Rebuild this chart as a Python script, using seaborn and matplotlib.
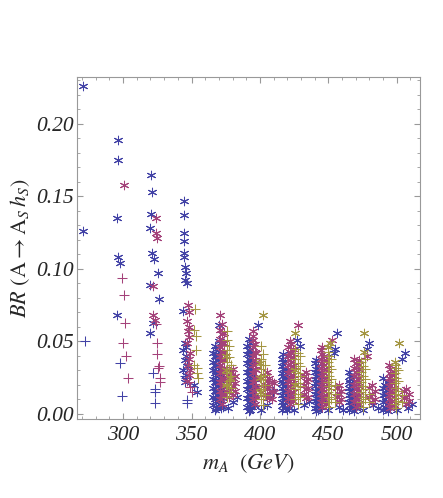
import numpy as np
import pandas as pd
import matplotlib
matplotlib.use("Agg")
import matplotlib.pyplot as plt
import seaborn as sns

# ---------------- data ----------------
# sparse points: (x, y)
blue_star_x = [271, 270.5, 296.4, 296.4, 295.6, 296, 298, 295.6,
               320.4, 321, 320.5, 320, 321, 322.6, 325.5, 320, 326, 322, 320,
               344.5, 344.5, 344.5, 344.5, 344.5, 344.5, 345, 346, 345, 347,
               344, 345, 346, 344, 346, 345, 347, 344, 346, 345, 354, 352]
blue_star_y = [0.226, 0.126, 0.189, 0.175, 0.135, 0.108, 0.104, 0.068,
               0.165, 0.153, 0.138, 0.128, 0.111, 0.107, 0.097, 0.089, 0.079, 0.063, 0.056,
               0.147, 0.137, 0.125, 0.119, 0.111, 0.108, 0.101, 0.097, 0.092, 0.090,
               0.071, 0.0486, 0.046, 0.044, 0.040, 0.037, 0.033, 0.030, 0.027, 0.022, 0.015, 0.020]
mag_star_x = [300.5, 324, 324, 325, 322, 322, 323,
              347.5, 348, 347, 348.5, 347.5, 348, 347, 349, 348, 347.5, 349, 348, 347]
mag_star_y = [0.158, 0.135, 0.125, 0.121, 0.088, 0.068, 0.065,
              0.075, 0.070, 0.064, 0.060, 0.0575, 0.053, 0.049, 0.042, 0.038, 0.034, 0.030, 0.027, 0.023]
blue_plus_x = [272, 298, 299, 322, 323.5, 323.5, 323.5, 346, 347, 347, 345]
blue_plus_y = [0.050, 0.035, 0.0125, 0.028, 0.017, 0.015, 0.0075, 0.0245, 0.0075, 0.0095, 0.026]
mag_plus_x = [299, 300.7, 301.5, 300, 302, 303.6,
              324, 325, 324.5, 325.5, 326, 327, 327, 349, 350, 348]
mag_plus_y = [0.094, 0.082, 0.063, 0.049, 0.040, 0.025,
              0.062, 0.049, 0.041, 0.032, 0.033, 0.022, 0.025, 0.0185, 0.015, 0.022]
olive_plus_x = [352.5, 352, 353, 353, 354, 352, 355, 354]
olive_plus_y = [0.0725, 0.058, 0.054, 0.044, 0.032, 0.034, 0.0245, 0.028]

# dense clusters at m_A ~ 375 ... 500 : columns (x, [y values])
blue_star_cols = [
    (366, [0.006, 0.012, 0.018, 0.024, 0.030, 0.036, 0.042]),
    (367, [0.003, 0.010, 0.016, 0.022, 0.028, 0.034, 0.040, 0.047]),
    (368, [0.004, 0.009, 0.015, 0.021, 0.027, 0.033, 0.039, 0.045]),
    (370, [0.007, 0.013, 0.019, 0.025, 0.031, 0.037, 0.043, 0.050, 0.061]),
    (371.5, [0.004, 0.009, 0.015, 0.021, 0.027]),
    (373, [0.005, 0.011, 0.017]), (377, [0.004]), (380, [0.008]), (383, [0.012]),
    (390.5, [0.005, 0.011, 0.017, 0.023, 0.029, 0.035, 0.041, 0.047]),
    (391.7, [0.002, 0.008, 0.014, 0.020, 0.026, 0.032, 0.038, 0.044, 0.052]),
    (393, [0.003, 0.008, 0.014, 0.020, 0.026, 0.032, 0.038, 0.044, 0.049]),
    (394.2, [0.005, 0.011, 0.017, 0.023, 0.029, 0.035, 0.041]),
    (395.5, [0.006, 0.012, 0.018, 0.024]), (398.5, [0.061]), (401, [0.003]),
    (405, [0.006]), (407, [0.011]), (409.5, [0.016]),
    (416, [0.003, 0.008, 0.013, 0.018, 0.023, 0.028, 0.033, 0.038]),
    (417.2, [0.006, 0.011, 0.016, 0.021, 0.026, 0.031, 0.036, 0.041]),
    (418.5, [0.005, 0.010, 0.015, 0.020, 0.025, 0.030, 0.035]),
    (419.8, [0.003, 0.008, 0.013, 0.018, 0.023, 0.028]),
    (421, [0.004, 0.009, 0.014]), (427, [0.051]), (429, [0.047]),
    (425, [0.003]), (432, [0.006]), (436, [0.009]),
    (440, [0.004, 0.009, 0.014, 0.019, 0.024, 0.029, 0.035]),
    (441.2, [0.002, 0.006, 0.011, 0.016, 0.021, 0.026, 0.031, 0.037]),
    (442.5, [0.003, 0.008, 0.013, 0.018, 0.023, 0.028, 0.033]),
    (443.8, [0.005, 0.011, 0.016, 0.021, 0.026]),
    (445, [0.005, 0.010]), (456, [0.0555]), (454, [0.042]), (455, [0.045]),
    (450, [0.003]), (458, [0.005]), (461, [0.003]),
    (465, [0.003, 0.008, 0.013, 0.018, 0.023, 0.029]),
    (466.2, [0.006, 0.011, 0.016, 0.021, 0.026]),
    (467.5, [0.004, 0.009, 0.014, 0.019, 0.024]),
    (468.7, [0.002, 0.007, 0.012, 0.017]), (470, [0.004]),
    (480, [0.0486]), (478, [0.045]), (475, [0.003]), (483, [0.006]), (486, [0.004]),
    (490, [0.003, 0.008, 0.013, 0.018, 0.0245]),
    (491.2, [0.005, 0.010, 0.015, 0.020]),
    (492.5, [0.004, 0.009, 0.014, 0.019]),
    (493.7, [0.002, 0.007, 0.012, 0.017, 0.022]), (506, [0.042]), (504, [0.038]),
    (500, [0.003]), (508, [0.004]), (511, [0.007]),
]
mag_star_cols = [
    (371, [0.010, 0.016, 0.022, 0.028, 0.034, 0.040, 0.046, 0.052, 0.058, 0.0685]),
    (372.2, [0.007, 0.013, 0.019, 0.025, 0.031, 0.037, 0.043, 0.049, 0.055, 0.062]),
    (373.5, [0.013, 0.019, 0.025, 0.031, 0.037, 0.043, 0.049, 0.056]),
    (376, [0.015, 0.021, 0.027]), (377.5, [0.012, 0.018, 0.024, 0.030]),
    (379, [0.017, 0.023, 0.029]), (380.5, [0.013, 0.019, 0.025, 0.031]),
    (382, [0.016, 0.021, 0.026]),
    (395, [0.010, 0.016, 0.022, 0.028, 0.034, 0.040, 0.046, 0.051, 0.054, 0.057]),
    (396.2, [0.007, 0.013, 0.019, 0.025, 0.031, 0.037, 0.043, 0.048]),
    (397.5, [0.012, 0.018, 0.024, 0.030, 0.036, 0.042]),
    (404, [0.014, 0.020, 0.026]), (405.5, [0.011, 0.017, 0.023, 0.029]),
    (407, [0.013, 0.019, 0.025]), (408.5, [0.010, 0.016, 0.022]), (410, [0.015, 0.021]),
    (420.5, [0.010, 0.016, 0.022, 0.028, 0.034, 0.040, 0.046]),
    (421.8, [0.007, 0.013, 0.019, 0.025, 0.031, 0.037, 0.043, 0.050]),
    (423, [0.012, 0.018, 0.024, 0.030, 0.036, 0.042, 0.048]),
    (424.3, [0.009, 0.015, 0.021, 0.027, 0.033, 0.039, 0.045]),
    (427.7, [0.061]), (432, [0.014, 0.020, 0.026]), (433.5, [0.011, 0.017, 0.023, 0.029]),
    (435, [0.012, 0.018, 0.024]),
    (444.5, [0.008, 0.014, 0.020, 0.026, 0.032, 0.038, 0.044]),
    (445.7, [0.005, 0.011, 0.017, 0.023, 0.029, 0.035, 0.041, 0.046]),
    (447, [0.010, 0.016, 0.022, 0.028, 0.034, 0.040]),
    (448.2, [0.007, 0.013, 0.019, 0.025, 0.031, 0.037]),
    (453, [0.051]), (456, [0.012, 0.018]), (457.5, [0.008, 0.014, 0.020]),
    (459, [0.010, 0.016]),
    (469, [0.008, 0.014, 0.020, 0.026, 0.032, 0.038]),
    (470.2, [0.005, 0.011, 0.017, 0.023, 0.029, 0.035]),
    (471.5, [0.010, 0.016, 0.022, 0.028, 0.034]),
    (472.7, [0.007, 0.013, 0.019, 0.025, 0.031, 0.037]),
    (478, [0.040]), (480, [0.012, 0.018]), (482, [0.008, 0.014, 0.020]),
    (484, [0.010, 0.016]),
    (494, [0.007, 0.013, 0.019, 0.025, 0.0335]),
    (495.2, [0.004, 0.010, 0.016, 0.022, 0.028, 0.031]),
    (496.5, [0.009, 0.015, 0.021, 0.027]),
    (497.7, [0.006, 0.012, 0.018, 0.024, 0.029]),
    (505, [0.011, 0.016]), (507, [0.007, 0.012, 0.017]), (509, [0.009, 0.014]),
]
olive_star_cols = [
    (375.5, [0.020, 0.030, 0.040]), (378, [0.025]),
    (402, [0.0685]), (400, [0.015, 0.025, 0.035]),
    (425.5, [0.056]), (426, [0.020, 0.030]),
    (451, [0.049]), (449.5, [0.046]),
    (476, [0.0555, 0.043]),
    (501.5, [0.0486]), (499, [0.036]),
]
olive_plus_cols = [
    (376, [0.012, 0.020, 0.028, 0.036, 0.044, 0.051, 0.0575]),
    (377.2, [0.015, 0.023, 0.031, 0.039, 0.047]), (379, [0.018, 0.026, 0.034]),
    (401, [0.010, 0.017, 0.024, 0.031, 0.038, 0.047]),
    (402.2, [0.006, 0.013, 0.020, 0.027, 0.034, 0.041]), (403.5, [0.013, 0.020, 0.027, 0.034]),
    (426, [0.010, 0.017, 0.024, 0.031, 0.038, 0.045]),
    (427.5, [0.007, 0.014, 0.021, 0.028, 0.035, 0.042]), (429, [0.012, 0.019, 0.026, 0.033, 0.040]),
    (449.5, [0.008, 0.015, 0.022, 0.029, 0.036, 0.043]),
    (450.8, [0.005, 0.012, 0.019, 0.026, 0.033, 0.040]), (452, [0.010, 0.017, 0.024, 0.031, 0.038]),
    (455, [0.008, 0.014, 0.020]),
    (474, [0.008, 0.015, 0.022, 0.029, 0.036]),
    (475.2, [0.005, 0.012, 0.019, 0.026, 0.033]), (476.5, [0.010, 0.017, 0.024, 0.031, 0.038]),
    (480, [0.008, 0.014]),
    (498.5, [0.007, 0.014, 0.021, 0.028, 0.034]),
    (499.8, [0.004, 0.011, 0.018, 0.025, 0.032]), (501, [0.009, 0.016, 0.023, 0.030]),
    (504, [0.008, 0.013]),
]

x_ticks = [300, 350, 400, 450, 500]
x_tick_labels = ["300", "350", "400", "450", "500"]
y_ticks = [0.00, 0.05, 0.10, 0.15, 0.20]
y_tick_labels = ["0.00", "0.05", "0.10", "0.15", "0.20"]

BLUE = "#4242a6"
MAG = "#a4427a"
OLIVE = "#a49642"


def expand(cols, xs=(), ys=()):
    X, Y = list(xs), list(ys)
    for x, yl in cols:
        for y in yl:
            X.append(x)
            Y.append(y)
    return pd.DataFrame({"x": X, "y": Y})


sns.set_style("ticks")
plt.rcParams["font.family"] = ["Liberation Serif", "DejaVu Serif"]
plt.rcParams["mathtext.fontset"] = "stix"

fig = plt.figure(figsize=(4.43, 4.98), dpi=100)
ax = fig.add_axes([0.1745, 0.1586, 0.948 - 0.1745, 0.8454 - 0.1586])

STAR = (6, 2, 0)
series = [
    (expand(blue_star_cols, blue_star_x, blue_star_y), BLUE, STAR, 2),
    (pd.DataFrame({"x": blue_plus_x, "y": blue_plus_y}), BLUE, "+", 2),
    (expand(mag_star_cols, mag_star_x, mag_star_y), MAG, STAR, 3),
    (pd.DataFrame({"x": mag_plus_x, "y": mag_plus_y}), MAG, "+", 3),
    (expand(olive_star_cols), OLIVE, STAR, 4),
    (expand(olive_plus_cols, olive_plus_x, olive_plus_y), OLIVE, "+", 4),
]
for df, col, mk, z in series:
    sns.scatterplot(data=df, x="x", y="y", ax=ax, marker=mk, color=col,
                    edgecolor=col, s=46 if mk == "+" else 38, linewidth=0.75,
                    zorder=z, legend=False)

ax.set_xlim(266.5, 517)
ax.set_ylim(-0.0035, 0.2323)
ax.set_xticks(x_ticks)
ax.set_xticklabels(x_tick_labels)
ax.set_xticks(np.arange(270, 520, 10), minor=True)
ax.set_yticks(y_ticks)
ax.set_yticklabels(y_tick_labels)
ax.set_yticks(np.arange(0, 0.231, 0.01), minor=True)
ax.tick_params(which="both", direction="in", top=True, right=True, color="#999999",
               labelsize=15.5)
ax.tick_params(axis="y", pad=2.5)
ax.tick_params(axis="x", pad=5)
ax.tick_params(which="major", length=4.5, width=0.8)
ax.tick_params(which="minor", length=2.2, width=0.6)
for lbl in ax.get_xticklabels() + ax.get_yticklabels():
    lbl.set_fontstyle("italic")
for sp in ax.spines.values():
    sp.set_color("#999999")
    sp.set_linewidth(0.8)

ax.set_xlabel(r"$m_{A}\ \ \mathit{(GeV)}$", fontsize=16, labelpad=5)
ax.set_ylabel(r"$BR\ (\mathrm{A}\rightarrow\mathrm{A}_{S}\,h_{S})$", fontsize=16, labelpad=3)

fig.savefig("out.png", dpi=100)
